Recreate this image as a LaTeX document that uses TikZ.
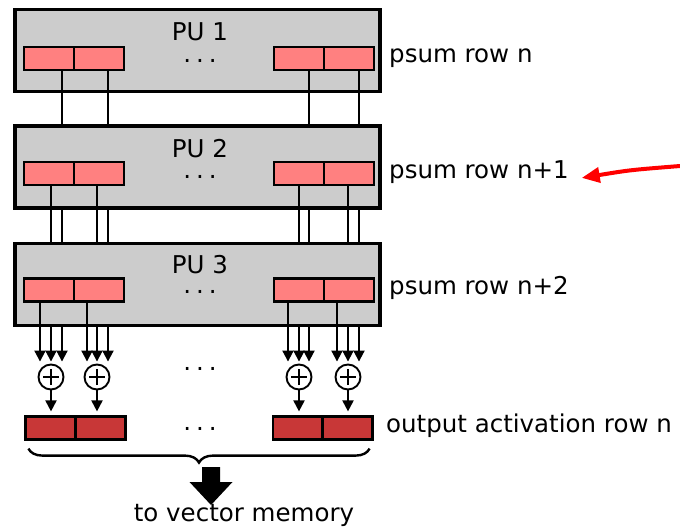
\documentclass[tikz,border=0pt]{standalone}
\usepackage{fontspec}
\setmainfont{DejaVu Sans}
\usetikzlibrary{arrows.meta, calc, decorations.pathreplacing}
\definecolor{cgrey}{HTML}{CCCCCC}
\definecolor{cpsum}{HTML}{FF8080}
\definecolor{cout}{HTML}{C83737}
\definecolor{cink}{HTML}{000000}
\definecolor{cred}{HTML}{FF0000}

\begin{document}
\begin{tikzpicture}[
  x=1pt, y=-1pt,
  font=\fontsize{24.5}{29}\selectfont,
  pu/.style={draw=cink, fill=cgrey, line width=3.4pt, minimum width=365pt,
             minimum height=82pt, inner sep=0pt},
  cell/.style={draw=cink, fill=cpsum, line width=2.2pt, minimum width=50pt,
               minimum height=23pt, inner sep=0pt},
  ocell/.style={cell, fill=cout},
  adder/.style={circle, draw=cink, line width=1.9pt, minimum size=25pt, inner sep=0pt,
                path picture={\draw[line width=1.9pt]
                  ([xshift=-8pt]path picture bounding box.center) -- ++(16pt,0)
                  ([yshift=-8pt]path picture bounding box.center) -- ++(0,16pt);}},
  lab/.style={text=cink, inner sep=0pt},
  dots/.style={lab, anchor=base, text height=3pt, text depth=0pt},
  wire/.style={draw=cink, line width=2pt},
  feed/.style={wire, -{Triangle[length=11pt, width=11pt]}},
  brace/.style={draw=cink, line width=2.4pt, decorate,
                decoration={brace, mirror, amplitude=14pt}}
]
\useasboundingbox (0,0) rectangle (680,528);

% processing units
\node[pu] (p1) at (197.5,50.5) {};
\node[pu] (p2) at (197.5,167) {};
\node[pu] (p3) at (197.5,284.5) {};
\node[lab, anchor=base] (t1) at (200,40) {PU 1};
\node[lab, anchor=base] (t2) at (200,157) {PU 2};
\node[lab, anchor=base] (t3) at (200,273) {PU 3};

% psum rows
\node[cell] (c11) at (49,58.5) {};  \node[cell] (c12) at (99,58.5) {};
\node[cell] (c13) at (299,58.5) {}; \node[cell] (c14) at (349,58.5) {};
\node[cell] (c21) at (49,173.5) {};  \node[cell] (c22) at (99,173.5) {};
\node[cell] (c23) at (299,173.5) {}; \node[cell] (c24) at (349,173.5) {};
\node[cell] (c31) at (49,290) {};  \node[cell] (c32) at (99,290) {};
\node[cell] (c33) at (299,290) {}; \node[cell] (c34) at (349,290) {};
\node[dots] (d1) at (200,62) {.\kern5pt.\kern5pt.};
\node[dots] (d2) at (200,178) {.\kern5pt.\kern5pt.};
\node[dots] (d3) at (200,293) {.\kern5pt.\kern5pt.};

% adders and output row
\node[adder] (s1) at (51,377) {};  \node[adder] (s2) at (97,377) {};
\node[adder] (s3) at (299,377) {}; \node[adder] (s4) at (348,377) {};
\node[dots] (d4) at (200,370) {.\kern5pt.\kern5pt.};
\node[ocell] (o1) at (50.5,428) {};  \node[ocell] (o2) at (100.5,428) {};
\node[ocell] (o3) at (298,428) {};   \node[ocell] (o4) at (347.5,428) {};
\node[dots] (d5) at (200,430) {.\kern5pt.\kern5pt.};

% row labels
\node[lab, anchor=base west] (l1) at (389,62) {psum row n};
\node[lab, anchor=base west] (l2) at (389,178) {psum row n+1};
\node[lab, anchor=base west] (l3) at (389,294) {psum row n+2};
\node[lab, anchor=base west] (l4) at (386,432) {output activation row n};

% wire columns
\coordinate (u1) at (62,0);  \coordinate (u2) at (108,0);
\coordinate (u3) at (309,0); \coordinate (u4) at (359,0);
\coordinate (w1) at (40,0);  \coordinate (w2) at (87,0);
\coordinate (w3) at (288,0); \coordinate (w4) at (337,0);

% PU 1 -> PU 3
\draw[wire] (u1 |- c11.south) -- (u1 |- p2.north); \draw[wire] (u2 |- c12.south) -- (u2 |- p2.north);
\draw[wire] (u3 |- c13.south) -- (u3 |- p2.north); \draw[wire] (u4 |- c14.south) -- (u4 |- p2.north);
\draw[wire] (u1 |- p2.south) -- (u1 |- p3.north); \draw[wire] (u2 |- p2.south) -- (u2 |- p3.north);
\draw[wire] (u3 |- p2.south) -- (u3 |- p3.north); \draw[wire] (u4 |- p2.south) -- (u4 |- p3.north);
% PU 2 -> PU 3
\draw[wire] (s1 |- c21.south) -- (s1 |- p3.north); \draw[wire] (s2 |- c22.south) -- (s2 |- p3.north);
\draw[wire] (s3 |- c23.south) -- (s3 |- p3.north); \draw[wire] (s4 |- c24.south) -- (s4 |- p3.north);

% into the adders
\draw[feed, shorten >=2pt] (w1 |- c31.south) -- (w1 |- s1.north);
\draw[feed, shorten >=2pt] (s1 |- p3.south) -- (s1.north);
\draw[feed, shorten >=2pt] (u1 |- p3.south) -- (u1 |- s1.north);
\draw[feed, shorten >=2pt] (w2 |- c32.south) -- (w2 |- s2.north);
\draw[feed, shorten >=2pt] (s2 |- p3.south) -- (s2.north);
\draw[feed, shorten >=2pt] (u2 |- p3.south) -- (u2 |- s2.north);
\draw[feed, shorten >=2pt] (w3 |- c33.south) -- (w3 |- s3.north);
\draw[feed, shorten >=2pt] (s3 |- p3.south) -- (s3.north);
\draw[feed, shorten >=2pt] (u3 |- p3.south) -- (u3 |- s3.north);
\draw[feed, shorten >=2pt] (w4 |- c34.south) -- (w4 |- s4.north);
\draw[feed, shorten >=2pt] (s4 |- p3.south) -- (s4.north);
\draw[feed, shorten >=2pt] (u4 |- p3.south) -- (u4 |- s4.north);

% adders -> output
\draw[feed, shorten >=4pt] (s1) -- (s1 |- o1.north); \draw[feed, shorten >=4pt] (s2) -- (s2 |- o2.north);
\draw[feed, shorten >=4pt] (s3) -- (s3 |- o3.north); \draw[feed, shorten >=4pt] (s4) -- (s4 |- o4.north);

% to memory
\draw[brace] ([xshift=4pt,yshift=-8pt]o1.south west) -- ([xshift=-4pt,yshift=-8pt]o4.south east);
\coordinate (bt) at (211,505);
\fill[cink] (bt) -- ++(21.5,-23) -- ++(-12.5,0) -- ++(0,-15) -- ++(-18,0) -- ++(0,15) -- ++(-12.5,0) -- cycle;
\node[lab, anchor=base] (vm) at (244,521) {to vector memory};

% marker
\coordinate (rs) at (680,166);
\draw[cred, line width=4pt, -{Triangle[length=18pt, width=15pt]}, shorten >=13pt]
  (rs) .. controls (630,170) .. (l2.east |- 0,180);
\end{tikzpicture}
\end{document}
